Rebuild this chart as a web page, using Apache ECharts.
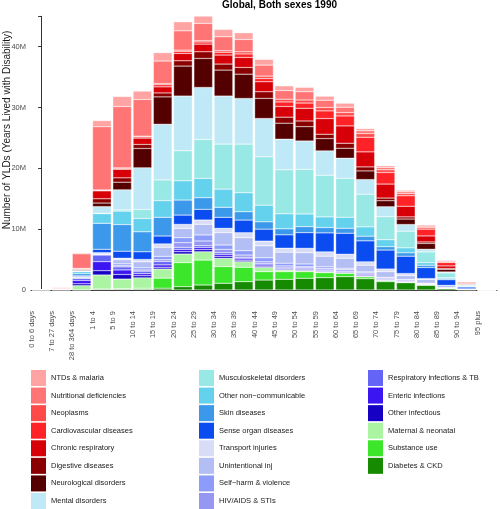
<!DOCTYPE html>
<html>
<head>
<meta charset="utf-8">
<script src="https://cdn.jsdelivr.net/npm/echarts@6/dist/echarts.min.js"></script>
<style>html,body{margin:0;padding:0;background:#fff}#c{width:500px;height:509px}</style>
</head>
<body>
<div id="c"></div>
<script>
// Age groups
const categories = ["0 to 6 days","7 to 27 days","28 to 364 days","1 to 4","5 to 9","10 to 14","15 to 19","20 to 24","25 to 29","30 to 34","35 to 39","40 to 44","45 to 49","50 to 54","55 to 59","60 to 64","65 to 69","70 to 74","75 to 79","80 to 84","85 to 89","90 to 94","95 plus"];
// YLDs, millions
const ntds          = [0,0.03,0.15,1.0,1.64,1.37,1.37,1.48,1.26,1.2,1.1,0.93,0.77,0.71,0.66,0.66,0.35,0.3,0.25,0.2,0.12,0.04,0.01];
const nutritional   = [0.005,0.15,2.4,10.4,10.08,6.03,3.7,3.17,2.85,2.3,2.03,1.81,1.42,1.37,1.2,0.88,0.47,0.36,0.3,0.24,0.15,0.05,0.02];
const neoplasms     = [0,0,0.02,0.05,0.1,0.12,0.2,0.2,0.2,0.25,0.35,0.4,0.45,0.5,0.55,0.55,0.6,0.45,0.35,0.25,0.1,0.03,0.01];
const cardio        = [0,0,0.03,0.1,0.15,0.2,0.35,0.35,0.35,0.46,0.58,0.53,0.75,0.87,1.26,1.64,2.4,1.9,1.73,1.12,0.56,0.2,0.05];
const chronicResp   = [0,0,0.1,1.3,1.4,1.05,1.0,1.2,1.26,1.48,1.64,1.64,1.75,2.08,2.58,2.85,2.47,2.3,1.75,0.99,0.44,0.1,0.03];
const digestive     = [0,0,0.1,0.7,0.71,0.66,0.65,0.87,1.1,0.99,1.1,1.1,0.99,0.93,0.71,0.82,0.66,0.44,0.35,0.25,0.12,0.04,0.01];
const neurological  = [0.005,0.02,0.12,0.59,1.26,3.18,4.5,4.93,4.77,4.27,4.0,3.3,2.63,2.36,2.03,1.64,1.42,0.99,0.9,0.95,0.43,0.12,0.03];
const mental        = [0,0,0.1,1.1,3.3,6.85,9.15,9.0,8.55,7.9,7.5,6.3,5.04,4.66,4.0,3.3,2.41,1.64,1.1,0.44,0.16,0.05,0.01];
const musculo       = [0,0,0.05,0.05,0.2,1.48,3.4,4.93,6.4,7.4,8.0,7.95,7.23,7.34,6.85,6.41,5.37,3.78,2.74,1.75,0.77,0.2,0.03];
const otherNcd      = [0.005,0.03,0.35,1.6,2.21,2.19,2.75,3.17,3.17,3.0,3.12,2.74,2.47,2.08,1.75,1.81,1.53,1.15,0.82,0.44,0.2,0.05,0.01];
const skin          = [0,0.02,0.35,4.27,4.38,3.29,3.07,2.47,1.92,1.64,1.37,1.2,0.99,0.99,0.88,0.82,0.77,0.55,0.55,0.38,0.15,0.04,0.01];
const senseOrgan    = [0,0,0.12,0.55,1.15,1.26,1.3,1.53,1.75,1.81,2.08,1.97,2.19,2.58,3.12,3.45,3.45,3.12,2.85,1.81,0.93,0.3,0.04];
const transport     = [0,0,0.02,0.08,0.25,0.38,0.55,0.66,0.71,0.71,0.82,0.77,0.66,0.71,0.71,0.66,0.55,0.44,0.33,0.15,0.05,0.01,0];
const unintentional = [0,0,0.15,0.2,0.68,0.99,1.5,1.53,1.75,2.03,2.14,1.97,1.81,1.86,1.75,1.64,1.1,0.93,0.66,0.6,0.3,0.08,0.01];
const selfHarm      = [0,0,0.02,0.05,0.3,0.35,0.55,0.82,0.99,0.71,0.71,0.66,0.44,0.44,0.27,0.2,0.15,0.1,0.05,0.03,0.02,0.01,0];
const hiv           = [0,0,0.1,0.05,0.2,0.2,0.3,0.77,0.77,0.55,0.38,0.27,0.22,0.15,0.1,0.08,0.05,0.03,0.02,0.01,0.01,0,0];
const respInf       = [0.005,0.03,0.35,1.1,0.5,0.4,0.55,0.33,0.3,0.3,0.25,0.25,0.2,0.2,0.2,0.2,0.25,0.2,0.17,0.12,0.06,0.02,0];
const enteric       = [0.005,0.03,0.55,1.48,0.75,0.35,0.4,0.38,0.35,0.33,0.23,0.2,0.12,0.12,0.12,0.12,0.15,0.1,0.1,0.07,0.03,0.01,0];
const otherInf      = [0.005,0.02,0.3,0.71,0.75,0.35,0.28,0.38,0.35,0.3,0.23,0.2,0.15,0.15,0.12,0.12,0.12,0.08,0.06,0.05,0.02,0.01,0];
const maternal      = [0.05,0.1,0.7,2.3,1.6,1.7,1.5,1.42,1.37,1.37,0.93,0.71,0.27,0.2,0.15,0.12,0.1,0.05,0.04,0.02,0.01,0,0];
const substance     = [0,0,0,0.02,0.05,0.15,1.65,3.95,4.1,2.74,2.36,1.37,1.26,1.1,0.82,0.55,0.3,0.15,0.08,0.03,0.01,0,0];
const diabetes      = [0.005,0.01,0.02,0.15,0.15,0.15,0.3,0.55,0.82,1.1,1.37,1.64,1.75,1.92,2.03,2.19,1.86,1.37,1.2,0.8,0.25,0.06,0.01];
const yTicks = [0,10,20,30,40];

// name, data, colour  (top of stack first, as in the legend)
const causes = [
  ["NTDs & malaria", ntds, "#FFA3A3"],
  ["Nutritional deficiencies", nutritional, "#FF7575"],
  ["Neoplasms", neoplasms, "#FF4A4A"],
  ["Cardiovascular diseases", cardio, "#FF2226"],
  ["Chronic respiratory", chronicResp, "#D80008"],
  ["Digestive diseases", digestive, "#8A0000"],
  ["Neurological disorders", neurological, "#550000"],
  ["Mental disorders", mental, "#BFE9F6"],
  ["Musculoskeletal disorders", musculo, "#98E8E6"],
  ["Other non\u2212communicable", otherNcd, "#64D2EC"],
  ["Skin diseases", skin, "#3C98EA"],
  ["Sense organ diseases", senseOrgan, "#0A4CF0"],
  ["Transport injuries", transport, "#D8DCF6"],
  ["Unintentional inj", unintentional, "#B3BEF5"],
  ["Self\u2212harm & violence", selfHarm, "#8D9BFA"],
  ["HIV/AIDS & STIs", hiv, "#9696F3"],
  ["Respiratory infections & TB", respInf, "#6464F6"],
  ["Enteric infections", enteric, "#3C16F2"],
  ["Other infectious", otherInf, "#1500C4"],
  ["Maternal & neonatal", maternal, "#ABF5A2"],
  ["Substance use", substance, "#3CE62A"],
  ["Diabetes & CKD", diabetes, "#168A00"]
];

const FONT = "'Liberation Sans', Arial, Helvetica, sans-serif";
const series = causes.slice().reverse().map(c => ({
  name: c[0], type: 'bar', stack: 'total', data: c[1],
  xAxisIndex: 0, yAxisIndex: 0,
  barCategoryGap: '8%',
  itemStyle: { color: c[2], borderColor: '#ffffff', borderWidth: 0.35 },
  emphasis: { disabled: true }
}));

const legendBase = {
  orient: 'vertical', padding: 0, itemWidth: 15, itemHeight: 16, itemGap: 1.57,
  height: 160, icon: 'rect', selectedMode: false,
  itemStyle: { borderWidth: 0 },
  textStyle: { fontSize: 7.5, color: '#1a1a1a', fontFamily: FONT }
};
const names = causes.map(c => c[0]);
// label anchors sit a little left of each bar, as in the reference
const labelShift = 0.46;
const labelPos = categories.map((c, i) => i - labelShift);

const chart = echarts.init(document.getElementById('c'), null, { renderer: 'canvas' });
chart.setOption({
  animation: false,
  title: {
    text: 'Global, Both sexes 1990', left: 222, top: 0, padding: 0,
    textStyle: { fontSize: 10, fontWeight: 'bold', color: '#000', fontFamily: FONT }
  },
  grid: { left: 31, right: 3, top: 16.3, bottom: 219, containLabel: false },
  legend: [
    Object.assign({}, legendBase, { left: 31, top: 370, data: names.slice(0, 8) }),
    Object.assign({}, legendBase, { left: 199, top: 370, data: names.slice(8, 16) }),
    Object.assign({}, legendBase, { left: 368, top: 370, data: names.slice(16) })
  ],
  xAxis: [{
    type: 'category', data: categories, position: 'bottom',
    axisLine: { lineStyle: { color: '#333', width: 1 } },
    axisTick: { alignWithLabel: true, length: 3, lineStyle: { color: '#333' } },
    axisLabel: { show: false }
  }, {
    type: 'value', min: -0.5, max: categories.length - 0.5, position: 'bottom', offset: 0,
    axisLine: { show: false }, axisTick: { show: false }, splitLine: { show: false },
    axisLabel: {
      customValues: labelPos, rotate: 90, margin: 21, fontSize: 7.5,
      color: '#4d4d4d', fontFamily: FONT,
      formatter: v => categories[Math.round(v + labelShift)]
    }
  }],
  yAxis: {
    type: 'value', min: 0, max: 45, interval: 10,
    splitLine: { show: false },
    axisLine: { show: true, lineStyle: { color: '#333', width: 1 } },
    axisTick: { show: true, length: 3, lineStyle: { color: '#333' } },
    axisLabel: {
      margin: 5, fontSize: 7.5, color: '#4d4d4d', fontFamily: FONT,
      customValues: yTicks,
      formatter: v => (v === 0 ? '0' : v + 'M')
    }
  },
  graphic: [{
    type: 'text', x: 7.5, y: 130, rotation: Math.PI / 2,
    style: {
      text: 'Number of YLDs (Years Lived with Disability)',
      fontSize: 10, fontFamily: FONT, fill: '#1a1a1a',
      textAlign: 'center', textVerticalAlign: 'middle'
    }
  }],
  series: series
});
</script>
</body>
</html>
